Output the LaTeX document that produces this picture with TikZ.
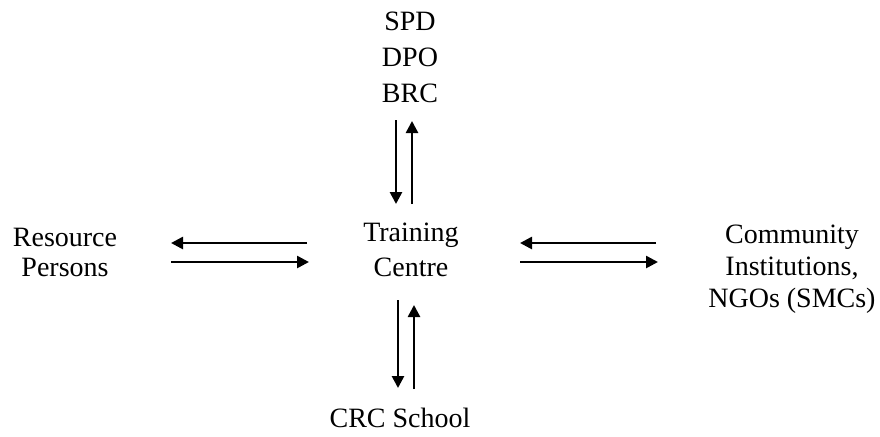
\documentclass[tikz,border=0pt]{standalone}
\usepackage{fontspec}
\setmainfont{Liberation Serif}
\usetikzlibrary{arrows.meta}
\begin{document}
\begin{tikzpicture}[x=0.5pt, y=-0.5pt,
  arr/.style={-{Triangle[length=6pt,width=6pt]}, line width=1.3pt},
  lbl/.style={align=center, inner sep=0pt, font=\fontsize{14}{18}\selectfont}]
\useasboundingbox (0,0) rectangle (880,436);
% labels
\node[lbl] (top) at (410,57) {SPD\\DPO\\BRC};
\node[lbl, font=\fontsize{14}{17.5}\selectfont] (tc) at (411,250) {Training\\Centre};
\node[lbl, font=\fontsize{14}{15}\selectfont] (rp) at (65,252) {Resource\\Persons};
\node[lbl, font=\fontsize{14}{16}\selectfont] (ci) at (792,269) {Community\\Institutions,\\NGOs (SMCs)};
\node[lbl] (crc) at (400,418) {CRC School};
% arrow ends
\coordinate (t1) at (396,120); \coordinate (t2) at (396,204);
\coordinate (t3) at (412,204); \coordinate (t4) at (412,121);
\coordinate (b1) at (398,300); \coordinate (b2) at (398,388);
\coordinate (b3) at (414,389); \coordinate (b4) at (414,305);
\coordinate (l1) at (307,243); \coordinate (l2) at (171,243);
\coordinate (l3) at (171,262); \coordinate (l4) at (309,262);
\coordinate (r1) at (656,243); \coordinate (r2) at (520,243);
\coordinate (r3) at (520,262); \coordinate (r4) at (658,262);
\draw[arr] (t1) -- (t2);
\draw[arr] (t3) -- (t4);
\draw[arr] (b1) -- (b2);
\draw[arr] (b3) -- (b4);
\draw[arr] (l1) -- (l2);
\draw[arr] (l3) -- (l4);
\draw[arr] (r1) -- (r2);
\draw[arr] (r3) -- (r4);
\end{tikzpicture}
\end{document}
